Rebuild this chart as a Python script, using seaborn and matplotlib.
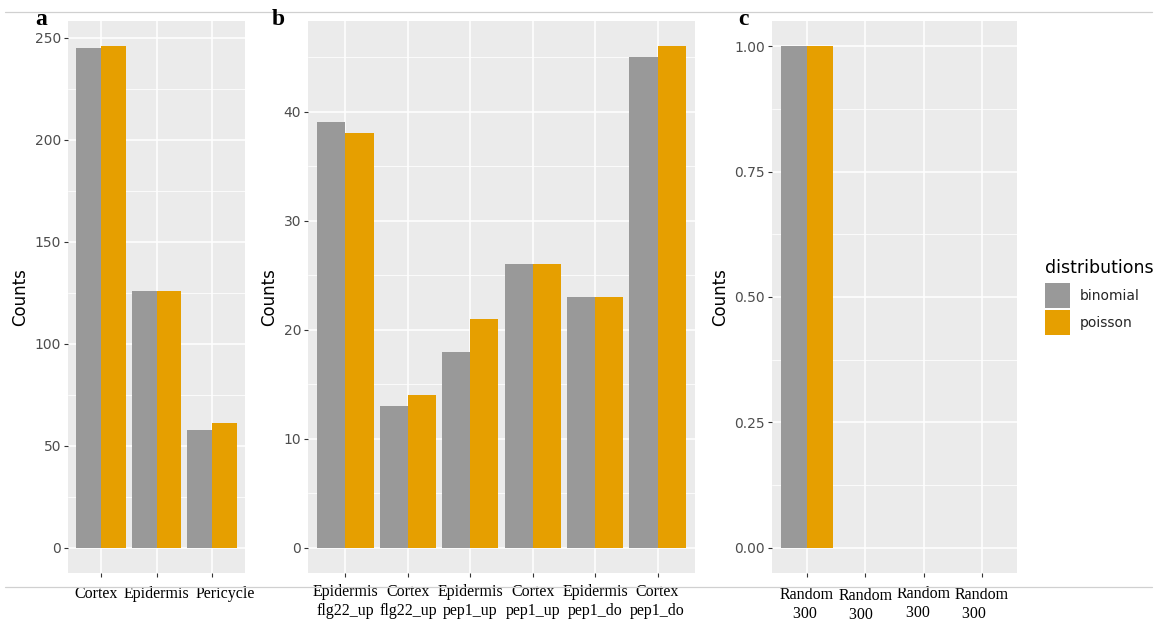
import numpy as np
import pandas as pd
import matplotlib
matplotlib.use("Agg")
import matplotlib.pyplot as plt
import seaborn as sns
from matplotlib.lines import Line2D
from matplotlib.patches import Patch
from matplotlib.ticker import MultipleLocator, FixedLocator
from matplotlib.transforms import ScaledTranslation

# ---------------- data ----------------
dists = ["binomial", "poisson"]
colors = ["#999999", "#E69F00"]

a_cats = ["Cortex", "Epidermis", "Pericycle"]
a_binom = [245, 126, 58]
a_pois = [246, 126, 61]

b_cats = ["Epidermis\nflg22_up", "Cortex\nflg22_up", "Epidermis\npep1_up",
          "Cortex\npep1_up", "Epidermis\npep1_do", "Cortex\npep1_do"]
b_binom = [39, 13, 18, 26, 23, 45]
b_pois = [38, 14, 21, 26, 23, 46]

c_cats = ["Random\n300 ", "Random\n300  ", "Random\n300   ", "Random\n300    "]
c_binom = [1, 0, 0, 0]
c_pois = [1, 0, 0, 0]

a_ticks = [0, 50, 100, 150, 200, 250]
b_ticks = [0, 10, 20, 30, 40]
c_ticks = [0.0, 0.25, 0.5, 0.75, 1.0]
c_ticklabels = ["0.00", "0.25", "0.50", "0.75", "1.00"]


def long_df(cats, binom, pois):
    return pd.DataFrame({
        "cat": list(cats) * 2,
        "Counts": list(binom) + list(pois),
        "distributions": [dists[0]] * len(cats) + [dists[1]] * len(cats),
    })


sns.set_theme(style="darkgrid")
plt.rcParams["font.family"] = ["DejaVu Sans"]

W, H = 1157, 623
fig = plt.figure(figsize=(W / 100, H / 100), dpi=100)


def px_axes(x0, y0, x1, y1):
    return fig.add_axes([x0 / W, 1 - y1 / H, (x1 - x0) / W, (y1 - y0) / H])


ax_a = px_axes(68, 21, 245, 573)
ax_b = px_axes(308, 21, 695, 573)
ax_c = px_axes(772, 21, 1017, 573)

panels = [
    (ax_a, a_cats, a_binom, a_pois, a_ticks, None, 25),
    (ax_b, b_cats, b_binom, b_pois, b_ticks, None, 5),
    (ax_c, c_cats, c_binom, c_pois, c_ticks, c_ticklabels, 0.125),
]

for ax, cats, binom, pois, ticks, tlabels, minor in panels:
    df = long_df(cats, binom, pois)
    sns.barplot(data=df, x="cat", y="Counts", hue="distributions",
                hue_order=dists, palette=colors, width=0.9, gap=0,
                saturation=1, ax=ax, legend=False, linewidth=0)
    ax.set_facecolor("#EBEBEB")
    n = len(cats)
    ax.set_xlim(-0.6, n - 0.4)
    ymax = max(max(binom), max(pois))
    ax.set_ylim(-0.05 * ymax, 1.05 * ymax)
    ax.yaxis.set_major_locator(FixedLocator(ticks))
    if tlabels is not None:
        ax.set_yticklabels(tlabels)
    ax.yaxis.set_minor_locator(MultipleLocator(minor))
    ax.grid(which="major", color="white", linewidth=1.1)
    ax.grid(which="minor", axis="y", color="white", linewidth=0.55)
    ax.set_axisbelow(True)
    for s in ax.spines.values():
        s.set_visible(False)
    ax.tick_params(axis="both", which="major", length=3, width=0.8,
                   color="#333333", bottom=True, left=True)
    ax.tick_params(axis="y", which="minor", length=0)
    ax.tick_params(axis="y", labelsize=10, labelcolor="#4D4D4D", pad=2)
    ax.tick_params(axis="x", pad=5)
    for lab in ax.get_xticklabels():
        lab.set_fontfamily("Liberation Serif")
        lab.set_fontsize(11.5)
        lab.set_color("black")
        lab.set_linespacing(1.25)
    ax.set_xlabel("")
    ax.set_ylabel("Counts", fontsize=12, color="black", labelpad=4)

# nudge tick labels to where the reference places them
fig.canvas.draw()
for lab, dx in zip(ax_a.get_xticklabels(), [-5.5, 0.0, 13.0]):
    lab.set_transform(lab.get_transform() +
                      ScaledTranslation(dx / 100, -2 / 100, fig.dpi_scale_trans))
for lab, dy in zip(ax_c.get_xticklabels(), [-3, -4, -2, -3]):
    lab.set_transform(lab.get_transform() +
                      ScaledTranslation(0, dy / 100, fig.dpi_scale_trans))

# legend
fig.text(1045 / W, 1 - 273 / H, "distributions", fontsize=12.5,
         color="black", va="baseline", ha="left")
handles = [Patch(facecolor=c, edgecolor="none") for c in colors]
leg = fig.legend(handles, dists,
                 loc="upper left", bbox_to_anchor=(1045 / W, 1 - 283 / H),
                 frameon=False, fontsize=10,
                 handlelength=1.8, handleheight=2.4, labelspacing=0.15,
                 handletextpad=0.7, borderaxespad=0, borderpad=0)

# panel letters
for letter, x in [("a", 35), ("b", 272), ("c", 738)]:
    fig.text(x / W, 1 - 25 / H, letter, fontfamily="Liberation Serif",
             fontweight="bold", fontsize=17, color="black", va="baseline")

# thin separator lines (from the reference image)
fig.add_artist(Line2D([5 / W, 1152 / W], [1 - 12 / H, 1 - 12 / H],
                      color="#D0D0D0", linewidth=0.9))
fig.add_artist(Line2D([5 / W, 1152 / W], [1 - 587 / H, 1 - 587 / H],
                      color="#D0D0D0", linewidth=0.9))

fig.savefig("out.png", dpi=100, facecolor="white")
